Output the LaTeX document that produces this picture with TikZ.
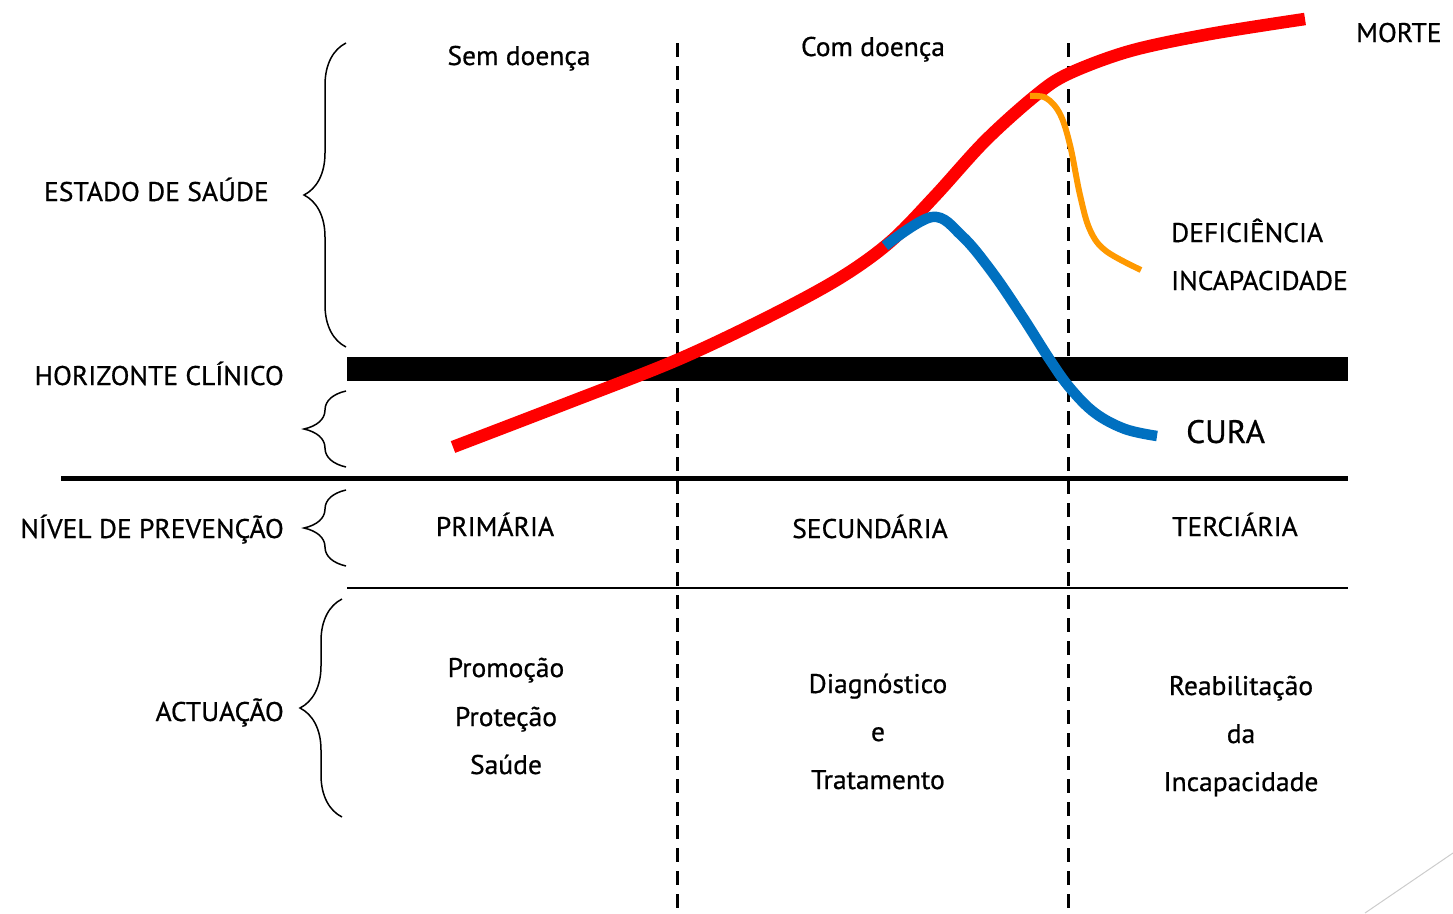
\documentclass[tikz,border=0pt]{standalone}
\usepackage{fontspec}
\setmainfont{PT Sans}[FakeStretch=1.02,UprightFeatures={FakeBold=0.7}]
\usetikzlibrary{decorations.pathreplacing}
\definecolor{cred}{RGB}{255,0,0}
\definecolor{cblue}{RGB}{0,112,192}
\definecolor{corange}{RGB}{255,153,0}
\begin{document}
\begin{tikzpicture}[x=1pt,y=-1pt,
  lbl/.style={inner sep=0pt,font=\fontsize{27}{32}\selectfont},
  bigl/.style={inner sep=0pt,font=\fontsize{32.5}{38}\selectfont},
  brc/.style={draw,line width=1.5pt,decorate,decoration={brace,amplitude=42pt}},
  divider/.style={draw,dashed,line width=3pt,dash pattern=on 14pt off 9pt},
  curve/.style={line cap=butt,line join=round}]
\useasboundingbox (0,0) rectangle (1453,913);
% horizon bar and lines
\fill (347,357) rectangle (1348,381);
\draw[line width=5pt] (61,478) coordinate (h1) -- (1348,478) coordinate (h2);
\draw[line width=2pt] (347,588) coordinate (t1) -- (1348,588) coordinate (t2);
% dashed dividers
\coordinate (d1t) at (677,43); \coordinate (d1b) at (677,913);
\coordinate (d2t) at (1068,43); \coordinate (d2b) at (1068,913);
\path[divider] (d1t) -- (d1b);
\path[divider] (d2t) -- (d2b);
% braces
\coordinate (b1t) at (346,43); \coordinate (b1b) at (346,347);
\coordinate (b2t) at (346,391); \coordinate (b2b) at (346,467);
\coordinate (b3t) at (346,490); \coordinate (b3b) at (346,566);
\coordinate (b4t) at (342,599); \coordinate (b4b) at (342,817);
\path[brc] (b1b) -- (b1t);
\path[brc] (b2b) -- (b2t);
\path[brc] (b3b) -- (b3t);
\path[brc] (b4b) -- (b4t);
% curves
\draw[cred,line width=12.5pt,curve] plot[smooth,tension=0.55] coordinates {(453,447) (565,404) (677,360) (770,316) (840,278) (890,242) (935,196) (985,141) (1035,96) (1068,74) (1130,51) (1210,34) (1305,19)};
\draw[cblue,line width=10.5pt,curve] plot[smooth,tension=0.6] coordinates {(885,246) (932,217) (962,236) (992,272) (1022,316) (1050,360) (1070,388) (1095,413) (1125,429) (1157,436)};
\draw[corange,line width=6pt,curve] plot[smooth,tension=0.6] coordinates {(1030,96) (1046,98) (1060,114) (1070,145) (1080,195) (1090,230) (1106,251) (1141,270)};
% labels
\node[lbl,anchor=base] (sem) at (519,65) {Sem doença};
\node[lbl,anchor=base] (com) at (873,56) {Com doença};
\node[lbl,anchor=base west] (morte) at (1356,42) {MORTE};
\node[lbl,anchor=base east] (estado) at (269,201) {ESTADO DE SAÚDE};
\node[lbl,anchor=base west] (def) at (1171,242) {DEFICIÊNCIA};
\node[lbl,anchor=base west] (inc) at (1171,290) {INCAPACIDADE};
\node[lbl,anchor=base east] (hor) at (284,385) {HORIZONTE CLÍNICO};
\node[bigl,anchor=base west] (cura) at (1186,443) {CURA};
\node[lbl,anchor=base east] (niv) at (284,538) {NÍVEL DE PREVENÇÃO};
\node[lbl,anchor=base] (prim) at (495,536) {PRIMÁRIA};
\node[lbl,anchor=base] (sec) at (870,538) {SECUNDÁRIA};
\node[lbl,anchor=base] (ter) at (1235,536) {TERCIÁRIA};
\node[lbl,anchor=base east] (act) at (284,721) {ACTUAÇÃO};
\node[lbl,anchor=base] (p1) at (506,677) {Promoção};
\node[lbl,anchor=base] (p2) at (506,726) {Proteção};
\node[lbl,anchor=base] (p3) at (506,774) {Saúde};
\node[lbl,anchor=base] (s1) at (878,693) {Diagnóstico};
\node[lbl,anchor=base] (s2) at (878,741) {e};
\node[lbl,anchor=base] (s3) at (878,789) {Tratamento};
\node[lbl,anchor=base] (r1) at (1241,695) {Reabilitação};
\node[lbl,anchor=base] (r2) at (1241,743) {da};
\node[lbl,anchor=base] (r3) at (1241,791) {Incapacidade};
% slide decoration
\draw[black!20,line width=1pt] (1365,913) coordinate (g1) -- (1453,853) coordinate (g2);
\end{tikzpicture}
\end{document}
